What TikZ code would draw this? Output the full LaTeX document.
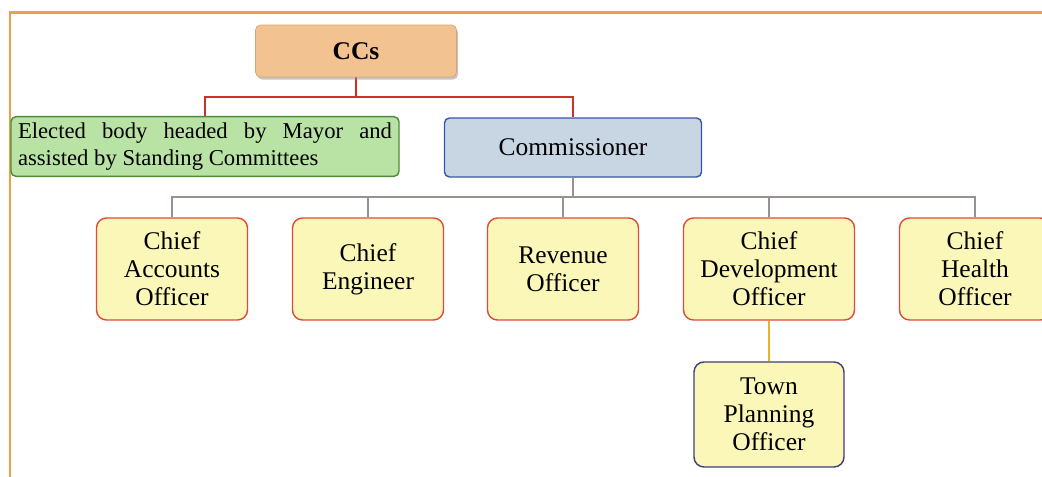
\documentclass[tikz,border=0pt]{standalone}
\usepackage{fontspec}
\setmainfont{Liberation Serif}
\usetikzlibrary{shadows, backgrounds}

\definecolor{frameorange}{HTML}{F0A040}
\definecolor{ccfill}{HTML}{F2C391}
\definecolor{ccdraw}{HTML}{D9A46E}
\definecolor{bodyfill}{HTML}{B9E2A5}
\definecolor{bodydraw}{HTML}{4E8A3C}
\definecolor{comfill}{HTML}{C8D6E3}
\definecolor{comdraw}{HTML}{3557A8}
\definecolor{offfill}{HTML}{FBF7B8}
\definecolor{offdraw}{HTML}{E04A3A}
\definecolor{towndraw}{HTML}{3A3F7A}
\definecolor{redline}{HTML}{D0302A}
\definecolor{grayline}{HTML}{9A9090}
\definecolor{goldline}{HTML}{EBB024}

\tikzset{
  officer/.style={draw=offdraw, fill=offfill, rounded corners=0.2cm, align=center, line width=0.8pt,
    minimum width=3.02cm, minimum height=2.04cm, inner sep=1pt,
    font=\fontsize{14.5}{16}\selectfont},
  link/.style={line width=1.2pt},
}

\begin{document}
\begin{tikzpicture}
  \useasboundingbox (0,0) rectangle (20.84,-9.52);
  \clip (0,0) rectangle (20.84,-9.52);
  \draw[frameorange, line width=0.06cm] (0.2,-0.24) rectangle (21.5,-10);

  \node[draw=ccdraw, fill=ccfill, rounded corners=0.1cm, minimum width=4.02cm, minimum height=1.04cm,
    drop shadow={opacity=0.45, shadow xshift=0.03cm, shadow yshift=-0.05cm},
    font=\fontsize{14.5}{16}\selectfont\bfseries] (CCs) at (7.12, -1.02) {CCs};
  \node[draw=bodydraw, fill=bodyfill, rounded corners=0.1cm, line width=0.8pt,
    minimum width=7.76cm, minimum height=1.14cm,
    text width=7.48cm, align=justify, inner sep=0.12cm,
    font={\fontsize{12.9}{15.4}\selectfont\hyphenpenalty10000}] (EB) at (4.1, -2.93)
    {Elected body headed by Mayor and assisted by Standing Committees};
  \node[draw=comdraw, fill=comfill, rounded corners=0.1cm, line width=0.8pt,
    minimum width=5.14cm, minimum height=1.18cm,
    font=\fontsize{14.5}{16}\selectfont] (COM) at (11.46, -2.95) {Commissioner};

  \node[officer] (CAO) at (3.44, -5.38) {Chief\\Accounts\\Officer};
  \node[officer] (CEN) at (7.36, -5.38) {Chief\\Engineer};
  \node[officer] (RO) at (11.26, -5.38) {Revenue\\Officer};
  \node[officer, minimum width=3.42cm] (CDO) at (15.38, -5.38) {Chief\\Development\\Officer};
  \node[officer] (CHO) at (19.5, -5.38) {Chief\\Health\\Officer};
  \node[officer, draw=towndraw, minimum width=3.0cm, minimum height=2.1cm] (TPO) at (15.38, -8.29) {Town\\Planning\\Officer};

  \begin{scope}[on background layer]
    % CCs to its two wings
    \coordinate (rj) at (7.12, -1.94);
    \draw[link, redline] (CCs.center) -- (rj);
    \draw[link, redline] (EB.north) |- (rj) -| (COM.north);

    % Commissioner to officers
    \coordinate (gj) at (11.46, -3.94);
    \draw[link, grayline] (COM.south) -- (gj);
    \foreach \n in {CAO, CEN, RO, CDO, CHO}
      \draw[link, grayline] (\n.north) |- (gj);

    \draw[link, goldline] (CDO) -- (TPO);
  \end{scope}
\end{tikzpicture}
\end{document}
